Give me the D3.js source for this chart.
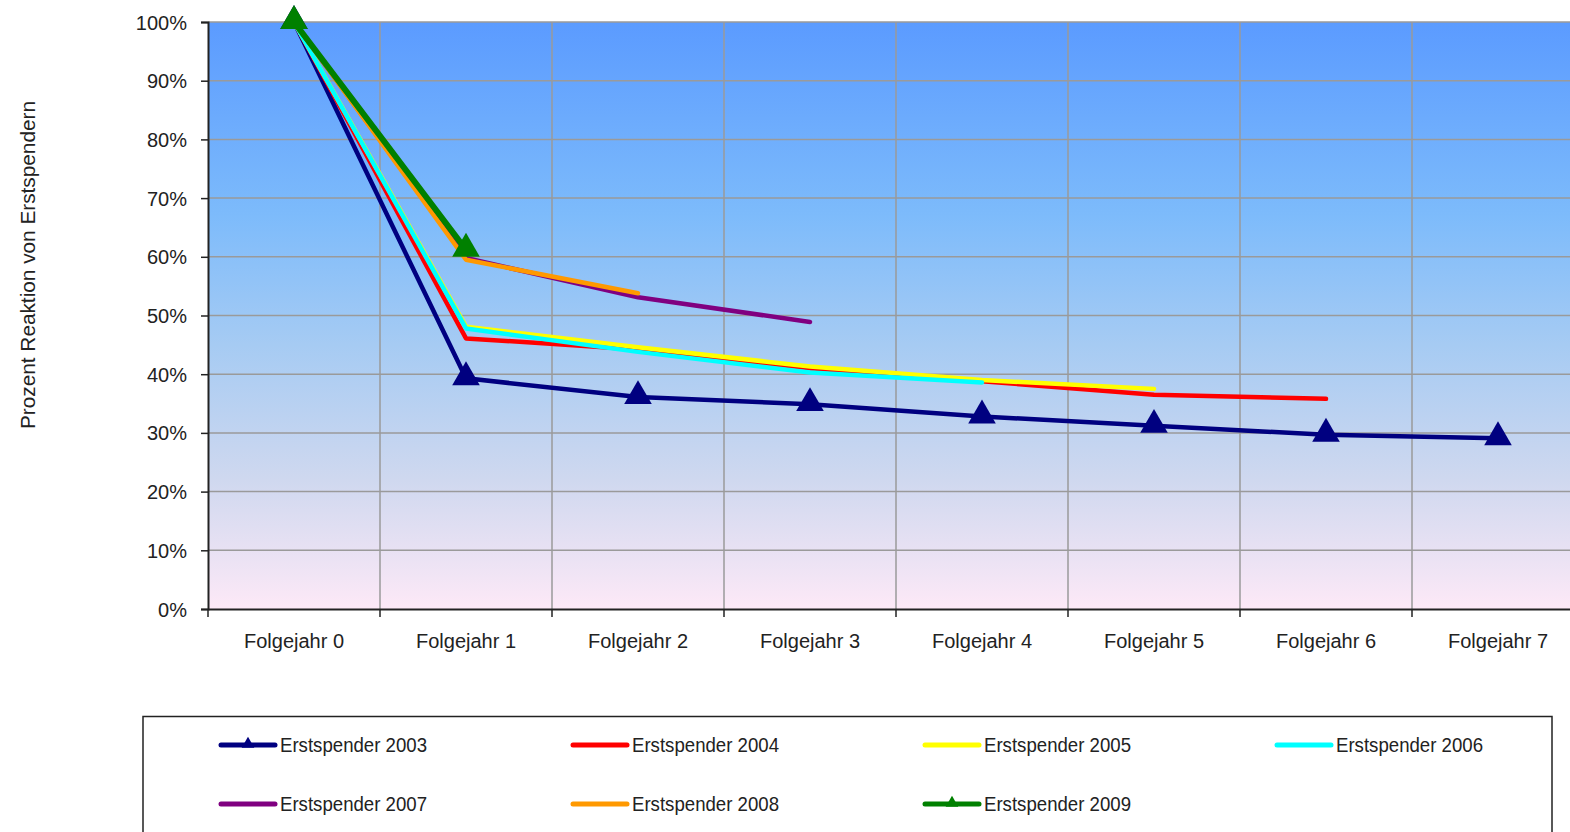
<!DOCTYPE html>
<html><head><meta charset="utf-8">
<script src="https://cdn.jsdelivr.net/npm/d3@7"></script>
<style>
html,body{margin:0;padding:0;background:#fff;overflow:hidden}
text{font-family:"Liberation Sans",Arial,sans-serif;fill:#222}
</style></head><body>
<svg id="c" width="1570" height="832"></svg>
<script>
const categories = ["Folgejahr 0","Folgejahr 1","Folgejahr 2","Folgejahr 3","Folgejahr 4","Folgejahr 5","Folgejahr 6","Folgejahr 7"];
const yTicks = [0,10,20,30,40,50,60,70,80,90,100];
const s2003 = [100,39.3,36.1,34.9,32.8,31.2,29.7,29.1];
const s2004 = [100,46.1,44.2,41.0,38.8,36.5,35.8];
const s2005 = [100,48.1,44.6,41.3,39.0,37.5];
const s2006 = [100,47.8,43.8,40.3,38.6];
const s2007 = [100,59.8,53.1,48.9];
const s2008 = [100,59.5,53.8];
const s2009 = [100,61.2];
const seriesNames = ["Erstspender 2003","Erstspender 2004","Erstspender 2005","Erstspender 2006","Erstspender 2007","Erstspender 2008","Erstspender 2009"];
const seriesColors = ["#000080","#ff0000","#ffff00","#00ffff","#800080","#ff9900","#008000"];
const seriesMarkers = [true,false,false,false,false,false,true];
const seriesValues = [s2003,s2004,s2005,s2006,s2007,s2008,s2009];

const svg = d3.select("#c");
const L=208, R=1584, T=22, B=609;
const x = d3.scaleBand().domain(categories).range([L,R]);
const y = d3.scaleLinear().domain([0,100]).range([B,T]);
const cx = c => x(c)+x.bandwidth()/2;

const defs = svg.append("defs");
const g = defs.append("linearGradient").attr("id","bg").attr("x1",0).attr("y1",0).attr("x2",0).attr("y2",1);
[[0,"#5b9bff"],[0.33,"#7dbbfb"],[0.55,"#a6cbf3"],[0.78,"#cfd8ef"],[1,"#fde9f7"]].forEach(s=>g.append("stop").attr("offset",s[0]).attr("stop-color",s[1]));
svg.append("rect").attr("x",L).attr("y",T).attr("width",R-L).attr("height",B-T).attr("fill","url(#bg)");

// gridlines
svg.append("g").selectAll("line").data(yTicks.filter(d=>d>0)).join("line")
  .attr("x1",L).attr("x2",R).attr("y1",d=>y(d)).attr("y2",d=>y(d))
  .attr("stroke","#9a9a9a").attr("stroke-width",1.5);
svg.append("g").selectAll("line").data(categories.slice(1)).join("line")
  .attr("x1",d=>x(d)).attr("x2",d=>x(d)).attr("y1",T).attr("y2",B)
  .attr("stroke","#9a9a9a").attr("stroke-width",1.5);

// axes
const yAxis = d3.axisLeft(y).tickValues(yTicks).tickFormat(d=>d+"%").tickSize(7).tickPadding(14);
const ya = svg.append("g").attr("transform",`translate(${L},0)`).call(yAxis);
ya.select(".domain").attr("stroke","#222").attr("stroke-width",2);
ya.selectAll(".tick line").attr("stroke","#222").attr("stroke-width",1.5);
ya.selectAll("text").style("font-size","20px").attr("fill","#222").attr("dy","0.35em");

const xAxis = d3.axisBottom(x).tickSize(0).tickPadding(25);
const xa = svg.append("g").attr("transform",`translate(0,${B})`).call(xAxis);
xa.select(".domain").attr("stroke","#222").attr("stroke-width",2);
xa.selectAll("text").style("font-size","20px").attr("fill","#222");
svg.append("g").selectAll("line").data(categories).join("line")
  .attr("x1",d=>x(d)).attr("x2",d=>x(d)).attr("y1",B).attr("y2",B+8)
  .attr("stroke","#222").attr("stroke-width",1.5);

svg.append("text").attr("transform",`translate(35,265) rotate(-90)`)
  .attr("text-anchor","middle").style("font-size","20.5px").attr("textLength",328).attr("lengthAdjust","spacingAndGlyphs").text("Prozent Reaktion von Erstspendern");

// lines
const line = d3.line().x((d,i)=>cx(categories[i])).y(d=>y(d));
const tri = d3.symbol().type(d3.symbolTriangle).size(330);
seriesValues.forEach((vals,si)=>{
  svg.append("path").datum(vals).attr("d",line).attr("fill","none")
    .attr("stroke",seriesColors[si]).attr("stroke-width", si===6?6:4.5)
    .attr("stroke-linejoin","round").attr("stroke-linecap","round");
  if(seriesMarkers[si]){
    svg.append("g").selectAll("path").data(vals).join("path")
      .attr("d",tri).attr("fill",seriesColors[si])
      .attr("transform",(d,i)=>`translate(${cx(categories[i])},${y(d)-1})`);
  }
});

// legend
svg.append("rect").attr("x",143).attr("y",716.5).attr("width",1409).attr("height",130)
  .attr("fill","#fff").attr("stroke","#222").attr("stroke-width",1.5);
const lg = svg.append("g").selectAll("g").data(seriesNames).join("g")
  .attr("transform",(d,i)=>`translate(${221+352*(i%4)},${i<4?745:804})`);
lg.append("line").attr("x1",0).attr("x2",54).attr("y1",0).attr("y2",0)
  .attr("stroke",(d,i)=>seriesColors[i]).attr("stroke-width",5).attr("stroke-linecap","round");
lg.filter((d,i)=>seriesMarkers[i]).append("path").attr("d",d3.symbol().type(d3.symbolTriangle).size(70))
  .attr("fill",(d)=>seriesColors[seriesNames.indexOf(d)]).attr("transform","translate(27,-1)");
lg.append("text").attr("x",59).attr("y",0).attr("dy","0.35em").style("font-size","20.5px")
  .attr("textLength",147).attr("lengthAdjust","spacingAndGlyphs").text(d=>d);
</script></body></html>
